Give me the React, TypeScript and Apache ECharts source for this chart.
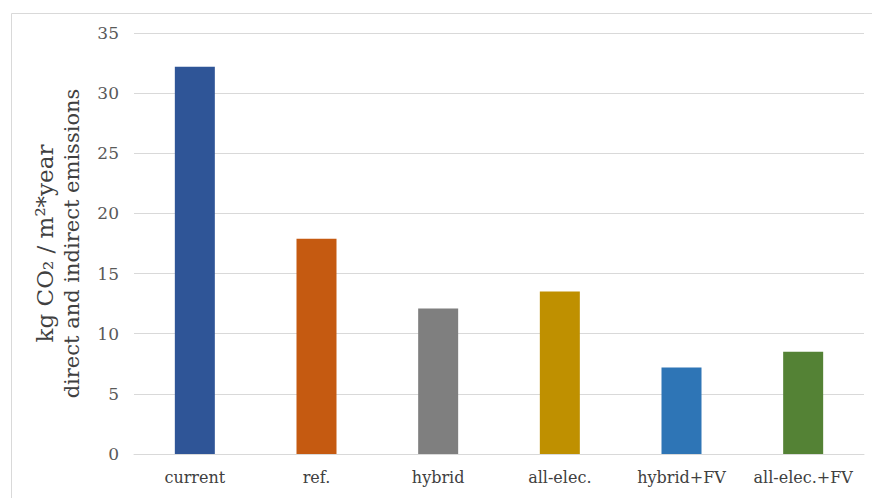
import React, { useEffect, useRef } from "react";
import * as echarts from "echarts";

const categories = ["current", "ref.", "hybrid", "all-elec.", "hybrid+FV", "all-elec.+FV"];
const emissions = [32.2, 17.9, 12.1, 13.5, 7.2, 8.5];
const barColors = ["#2F5597", "#C55A11", "#7F7F7F", "#BF9000", "#2E75B6", "#548235"];
const yTitleLine1 = "kg CO\u2082 / m\u00B2*year";
const yTitleLine2 = "direct and indirect emissions";
const SERIF = "'DejaVu Serif', 'Liberation Serif', serif";

export default function App() {
  const ref = useRef<HTMLDivElement>(null);
  useEffect(() => {
    if (!ref.current) return;
    const chart = echarts.init(ref.current, undefined, { renderer: "svg" });
    chart.setOption({
      animation: false,
      backgroundColor: "#ffffff",
      graphic: [
        {
          type: "rect",
          left: 9,
          top: 11,
          shape: { width: 870, height: 495 },
          style: { fill: "none", stroke: "#d9d9d9", lineWidth: 1 },
          silent: true,
        },
      ],
      grid: { left: 134, right: 8, top: 33, bottom: 44 },
      xAxis: {
        type: "category",
        data: categories,
        axisLine: { lineStyle: { color: "#d9d9d9" } },
        axisTick: { show: false },
        axisLabel: {
          color: "#404040",
          fontFamily: SERIF,
          fontSize: 16,
          margin: 15,
          interval: 0,
        },
      },
      yAxis: {
        type: "value",
        min: 0,
        max: 35,
        interval: 5,
        name: `{a|${yTitleLine1}}\n{b|${yTitleLine2}}`,
        nameLocation: "middle",
        nameGap: 39,
        nameTextStyle: {
          color: "#404040",
          fontFamily: SERIF,
          fontSize: 21,
          lineHeight: 28,
          rich: {
            a: { fontFamily: SERIF, fontSize: 23, lineHeight: 26, color: "#404040" },
            b: { fontFamily: SERIF, fontSize: 21, lineHeight: 28, color: "#404040" },
          },
        },
        axisLine: { show: false },
        axisTick: { show: false },
        splitLine: { lineStyle: { color: "#d9d9d9" } },
        axisLabel: {
          color: "#595959",
          fontFamily: SERIF,
          fontSize: 17,
          margin: 15,
        },
      },
      series: [
        {
          type: "bar",
          barWidth: 40,
          data: emissions.map((v, i) => ({ value: v, itemStyle: { color: barColors[i] } })),
        },
      ],
    });
    return () => chart.dispose();
  }, []);
  return (
    <div
      ref={ref}
      style={{ position: "fixed", left: 0, top: 0, width: 872, height: 498 }}
    />
  );
}
